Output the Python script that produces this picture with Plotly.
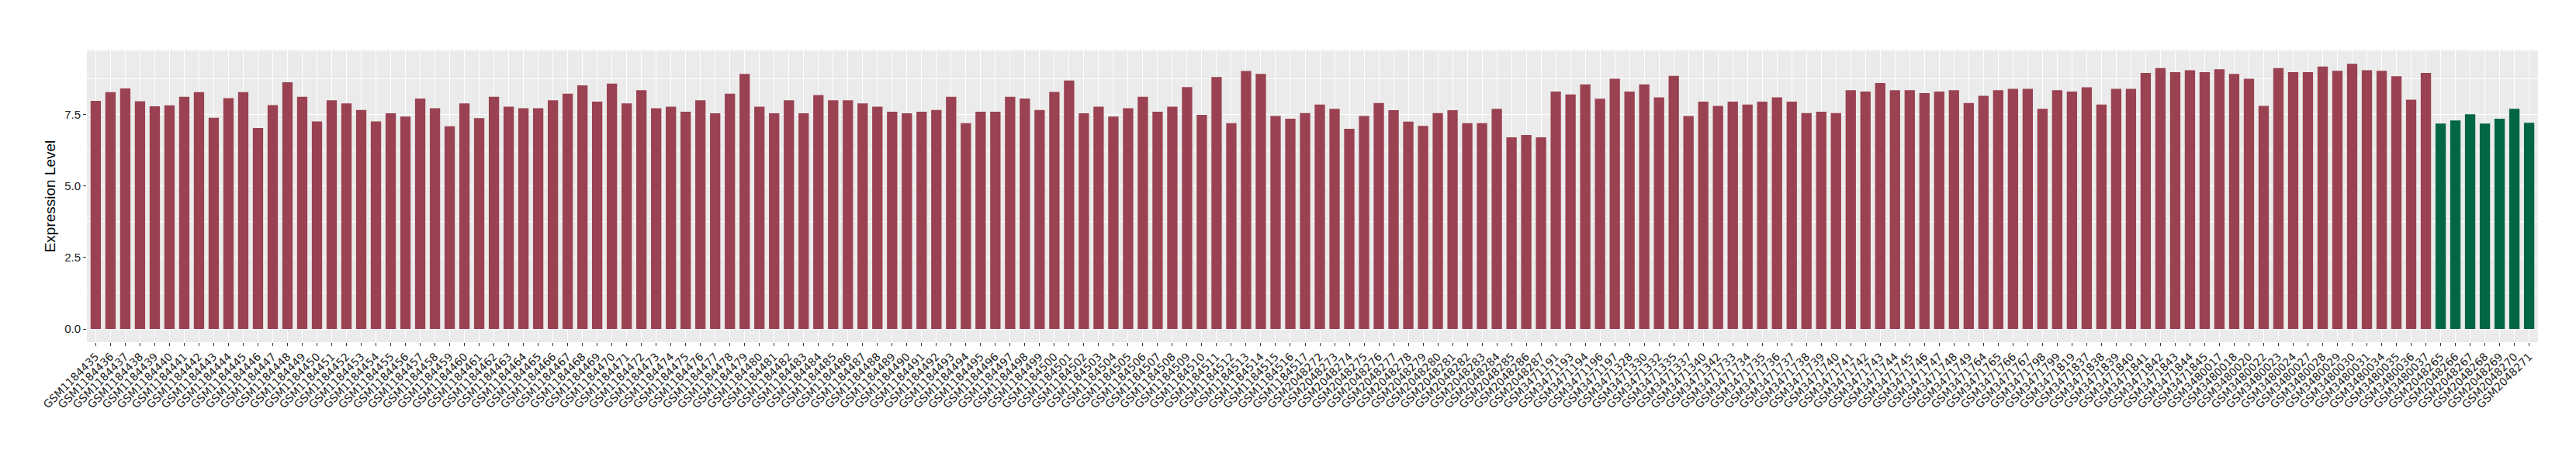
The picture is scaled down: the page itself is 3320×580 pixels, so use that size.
import plotly.graph_objects as go

labels_a = [f"GSM{n}" for n in range(1184435, 1184518)]
labels_b = [f"GSM{n}" for n in range(2048272, 2048288)]
labels_c = ["GSM3471191", "GSM3471193", "GSM3471194", "GSM3471196", "GSM3471197",
            "GSM3471328", "GSM3471330", "GSM3471332", "GSM3471335", "GSM3471337",
            "GSM3471340", "GSM3471342", "GSM3471733", "GSM3471734", "GSM3471735",
            "GSM3471736", "GSM3471737", "GSM3471738", "GSM3471739", "GSM3471740",
            "GSM3471741", "GSM3471742", "GSM3471743", "GSM3471744", "GSM3471745",
            "GSM3471746", "GSM3471747", "GSM3471748", "GSM3471749", "GSM3471764",
            "GSM3471765", "GSM3471766", "GSM3471767", "GSM3471798", "GSM3471799",
            "GSM3471819", "GSM3471837", "GSM3471838", "GSM3471839", "GSM3471840",
            "GSM3471841", "GSM3471842", "GSM3471843", "GSM3471844", "GSM3471845",
            "GSM3480017", "GSM3480018", "GSM3480020", "GSM3480022", "GSM3480023",
            "GSM3480024", "GSM3480027", "GSM3480028", "GSM3480029", "GSM3480030",
            "GSM3480031", "GSM3480034", "GSM3480035", "GSM3480036", "GSM3480037"]
labels_green = [f"GSM{n}" for n in range(2048265, 2048272)]

values_red = [
    7.98, 8.28, 8.41, 7.96, 7.79, 7.82, 8.12, 8.28, 7.39, 8.07, 8.28, 7.03,
    7.83, 8.63, 8.12, 7.26, 8.00, 7.89, 7.66, 7.26, 7.54, 7.43,
    8.06, 7.72, 7.09, 7.89, 7.37, 8.12, 7.77, 7.72, 7.72, 8.00,
    8.23, 8.52, 7.95, 8.58, 7.89, 8.35, 7.72, 7.77, 7.60, 8.00,
    7.54, 8.23, 8.92, 7.77, 7.54, 8.00, 7.54, 8.18, 8.00, 8.00,
    7.89, 7.77, 7.60, 7.54, 7.60, 7.66, 8.12, 7.20, 7.60, 7.60,
    8.12, 8.06, 7.66, 8.29, 8.69, 7.54, 7.77, 7.43, 7.72, 8.12,
    7.60, 7.77, 8.46, 7.49, 8.81, 7.20, 9.02, 8.92,
    7.45, 7.35, 7.55, 7.85, 7.70, 7.00, 7.45, 7.90, 7.65, 7.25,
    7.10, 7.55, 7.65, 7.20, 7.20, 7.70,
    6.70, 6.78, 6.70,
    8.30, 8.20, 8.55, 8.05, 8.75, 8.30, 8.55, 8.10, 8.85, 7.45,
    7.95, 7.80, 7.95, 7.85, 7.95, 8.10, 7.95, 7.55, 7.60, 7.55,
    8.35, 8.30, 8.60, 8.35, 8.35, 8.25, 8.30, 8.35, 7.90, 8.15,
    8.35, 8.40, 8.40, 7.70, 8.35, 8.30, 8.45, 7.85, 8.40, 8.40,
    8.95, 9.12, 8.98, 9.05, 8.98, 9.08, 8.92, 8.75,
    7.80,
    9.12, 8.98, 8.98, 9.18,
    9.03, 9.27, 9.05, 9.03, 8.84, 8.02, 8.95]
values_green = [7.18, 7.29, 7.51, 7.18, 7.35, 7.70, 7.21]

labels_red = labels_a + labels_b + labels_c
all_labels = labels_red + labels_green

RED = "#9A4251"
GREEN = "#006644"

fig = go.Figure()
fig.add_trace(go.Bar(x=labels_red, y=values_red, marker=dict(color=RED, line=dict(width=0)),
                     width=0.7, showlegend=False))
fig.add_trace(go.Bar(x=labels_green, y=values_green, marker=dict(color=GREEN, line=dict(width=0)),
                     width=0.7, showlegend=False))

fig.update_layout(
    width=3320, height=580,
    margin=dict(l=104, r=57, t=57, b=147, pad=0),
    paper_bgcolor="white", plot_bgcolor="#EBEBEB",
    barmode="overlay",
    font=dict(family="Liberation Sans, Arial, sans-serif"),
    xaxis=dict(
        type="category", categoryorder="array", categoryarray=all_labels,
        range=[-0.6, len(all_labels) - 0.4],
        tickangle=-45, ticks="outside", ticklen=4, tickcolor="#333333", tickwidth=1,
        tickfont=dict(size=14, color="#222222", family="DejaVu Sans, sans-serif"),
        showgrid=True, gridcolor="white", gridwidth=1.1, showline=False, zeroline=False,
    ),
    yaxis=dict(
        range=[-0.46, 9.74],
        tickvals=[0, 2.5, 5, 7.5], ticktext=["0.0", "2.5", "5.0", "7.5"],
        ticks="outside", ticklen=4, tickcolor="#333333", tickwidth=1,
        tickfont=dict(size=15, color="#222222"),
        showgrid=True, gridcolor="white", gridwidth=1.1, zeroline=False, showline=False,
        minor=dict(tickvals=[1.25, 3.75, 6.25, 8.75], showgrid=True, gridcolor="white",
                   gridwidth=0.55, ticks=""),
        title=dict(text="Expression Level", font=dict(size=19, color="black"), standoff=6),
    ),
)

fig.write_html("out.html")
